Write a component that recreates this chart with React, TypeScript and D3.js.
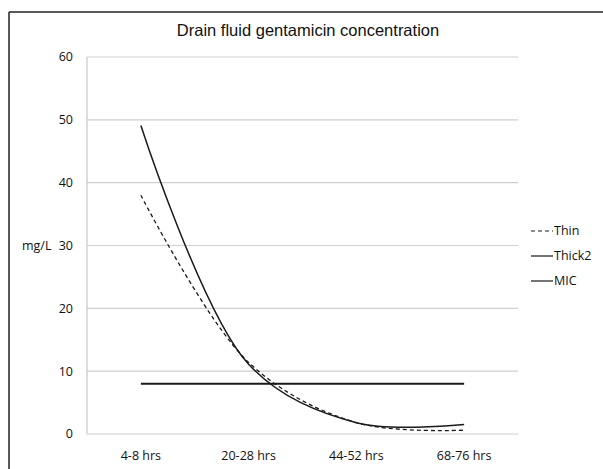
import React from "react";
import * as d3 from "d3";

const categories = ["4-8 hrs", "20-28 hrs", "44-52 hrs", "68-76 hrs"];
const thinValues = [38.0, 11.4, 1.8, 0.6];
const thick2Values = [49.1, 11.1, 1.8, 1.5];
const micValues = [8, 8, 8, 8];
const yTicks = [0, 10, 20, 30, 40, 50, 60];
const seriesNames = ["Thin", "Thick2", "MIC"];

const W = 603;
const H = 469;
const plot = { left: 87, right: 518, top: 57, bottom: 434 };
const labelFont = "'Open Sans', Lato, sans-serif";

export default function App() {
  const x = d3
    .scaleBand<string>()
    .domain(categories)
    .range([plot.left, plot.right]);
  const y = d3.scaleLinear().domain([0, 60]).range([plot.bottom, plot.top]);
  const cx = (c: string) => (x(c) as number) + x.bandwidth() / 2;

  const line = d3
    .line<number>()
    .x((_, i) => cx(categories[i]))
    .y((d) => y(d))
    .curve(d3.curveCatmullRom.alpha(0.5));
  const straight = d3
    .line<number>()
    .x((_, i) => cx(categories[i]))
    .y((d) => y(d));

  const legendY = [231, 256, 281];
  const series = [
    { name: seriesNames[0], d: line(thinValues), dash: "4,3", w: 1.3 },
    { name: seriesNames[1], d: line(thick2Values), dash: undefined, w: 1.5 },
    { name: seriesNames[2], d: straight(micValues), dash: undefined, w: 2 },
  ];

  return (
    <svg
      width={W}
      height={H}
      style={{ position: "absolute", left: 0, top: 0, background: "#fff" }}
    >
      <rect x={0} y={0} width={W} height={H} fill="#fff" />
      <line x1={9} y1={12} x2={9} y2={H} stroke="#222" strokeWidth={1.5} />
      <line x1={9} y1={12} x2={W} y2={12} stroke="#222" strokeWidth={1.5} />

      <text
        x={308}
        y={36}
        textAnchor="middle"
        fontFamily="'Liberation Sans', Arial, sans-serif"
        fontSize={16.5}
        fill="#111"
      >
        Drain fluid gentamicin concentration
      </text>

      {yTicks.map((t) => (
        <g key={t}>
          <line
            x1={plot.left}
            x2={plot.right}
            y1={y(t)}
            y2={y(t)}
            stroke="#cfcfcf"
            strokeWidth={1.2}
          />
          <text
            x={73}
            y={y(t)}
            dy="0.35em"
            textAnchor="end"
            fontFamily={labelFont}
            fontSize={12.5}
            fill="#111"
          >
            {t}
          </text>
        </g>
      ))}
      <line
        x1={plot.left}
        x2={plot.left}
        y1={plot.top}
        y2={plot.bottom}
        stroke="#c8c8c8"
        strokeWidth={1.2}
      />
      <text
        x={22}
        y={y(30)}
        dy="0.35em"
        fontFamily={labelFont}
        fontSize={12.5}
        fill="#111"
      >
        mg/L
      </text>

      {categories.map((c) => (
        <text
          key={c}
          x={cx(c)}
          y={456}
          dy="0.35em"
          textAnchor="middle"
          fontFamily={labelFont}
          fontSize={12.5}
          fill="#111"
        >
          {c}
        </text>
      ))}

      {series.map((s) => (
        <path
          key={s.name}
          d={s.d || ""}
          fill="none"
          stroke="#1a1a1a"
          strokeWidth={s.w}
          strokeDasharray={s.dash}
        />
      ))}

      {series.map((s, i) => (
        <g key={"lg" + s.name}>
          <line
            x1={531}
            x2={553}
            y1={legendY[i]}
            y2={legendY[i]}
            stroke="#1a1a1a"
            strokeWidth={1.2}
            strokeDasharray={s.dash}
          />
          <text
            x={554}
            y={legendY[i]}
            dy="0.35em"
            fontFamily={labelFont}
            fontSize={12.5}
            fill="#111"
          >
            {s.name}
          </text>
        </g>
      ))}
    </svg>
  );
}
